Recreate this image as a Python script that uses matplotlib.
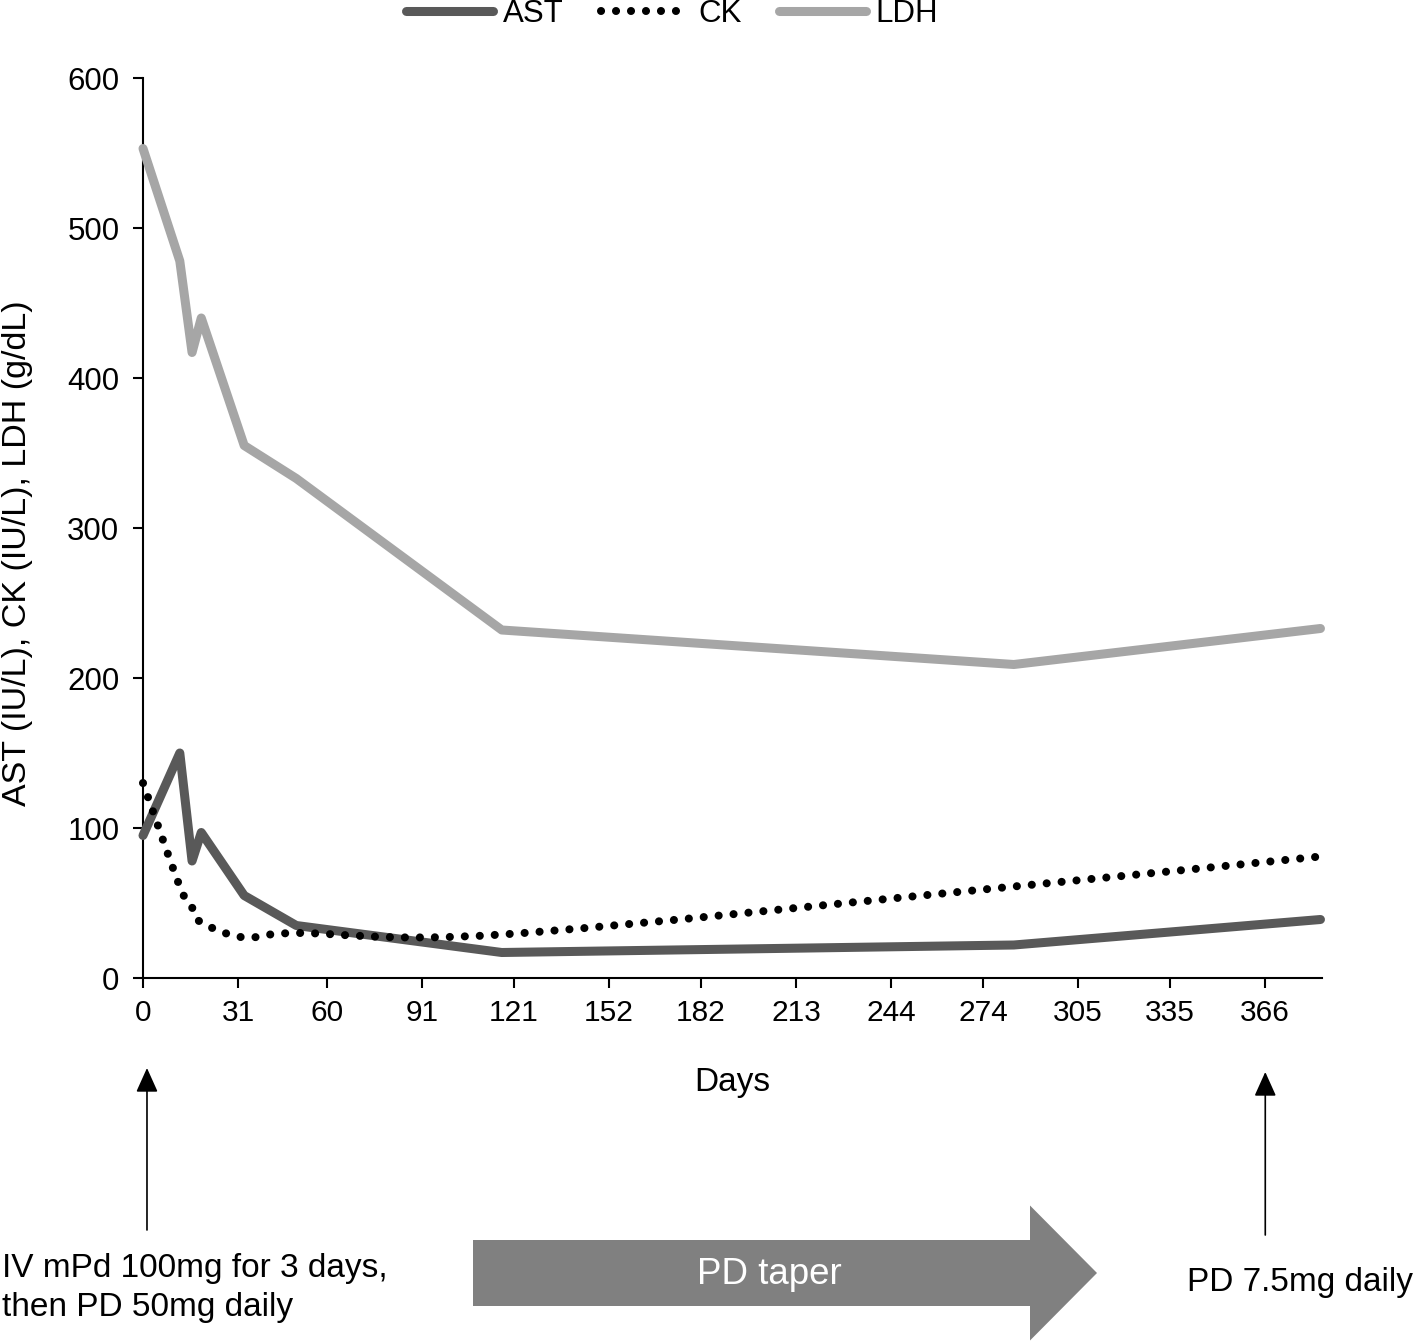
import numpy as np
import matplotlib
matplotlib.use("Agg")
import matplotlib.pyplot as plt
from matplotlib.path import Path
from matplotlib.patches import PathPatch, FancyArrow

plt.rcParams['font.family'] = ['Liberation Sans', 'DejaVu Sans']

# days since start of treatment
days = [0, 12, 16, 19, 33, 50, 117, 284, 384]
ast = [95, 150, 78, 97, 55, 35, 17, 22, 39]
ck = [130, 61, 47, 37, 27, 30, 29, 61, 81]
ldh = [553, 478, 417, 440, 355, 333, 232, 209, 233]

xticks = [0, 31, 60, 91, 121, 152, 182, 213, 244, 274, 305, 335, 366]
yticks = [0, 100, 200, 300, 400, 500, 600]


def smooth_path(x, y):
    # excel style smoothed line: cubic bezier through every point
    p = np.column_stack([x, y]).astype(float)
    n = len(p)
    verts = [p[0]]
    codes = [Path.MOVETO]
    for i in range(n - 1):
        prev = p[max(i - 1, 0)]
        nxt = p[min(i + 2, n - 1)]
        c1 = p[i] + (p[i + 1] - prev) / 6
        c2 = p[i + 1] - (nxt - p[i]) / 6
        verts += [c1, c2, p[i + 1]]
        codes += [Path.CURVE4] * 3
    return Path(verts, codes)


fig = plt.figure(figsize=(14.18, 13.43), dpi=100)
ax = fig.add_axes([143 / 1418, 1 - 978 / 1343, (1322 - 143) / 1418, 900 / 1343])

dots = (0, (0.01, 1.85))
ast_line, = ax.plot(days, ast, color='#595959', lw=6.5, solid_capstyle='round',
                    solid_joinstyle='round', clip_on=False, label='AST', zorder=3)
ck_patch = PathPatch(smooth_path(days, ck), fill=False, edgecolor='black', lw=5.8,
                     linestyle=dots, capstyle='round', clip_on=False, zorder=4)
ax.add_patch(ck_patch)
ck_handle, = ax.plot([], [], color='black', lw=5.8, linestyle=dots,
                     dash_capstyle='round', label='CK')
ldh_line, = ax.plot(days, ldh, color='#A6A6A6', lw=6.5, solid_capstyle='round',
                    solid_joinstyle='round', clip_on=False, label='LDH', zorder=3)

ax.set_xlim(0, 384.5)
ax.set_ylim(0, 600)
ax.set_xticks(xticks)
ax.set_yticks(yticks)
ax.tick_params(labelsize=21.5, length=7, width=1.5, direction='out')
ax.tick_params(axis='x', pad=8)
ax.tick_params(axis='y', labelsize=22.5, pad=10)
for s in ['top', 'right']:
    ax.spines[s].set_visible(False)
for s in ['left', 'bottom']:
    ax.spines[s].set_linewidth(1.5)

ax.set_xlabel('Days', fontsize=24, labelpad=29)
fig.text(18 / 1418, 1 - 553 / 1343, 'AST (IU/L), CK (IU/L), LDH (g/dL)',
         rotation=90, fontsize=24.5, ha='center', va='center')

fig.legend(handles=[ast_line, ck_handle, ldh_line], loc='center', ncol=3,
           bbox_to_anchor=(672 / 1418, 1 - 14 / 1343), frameon=False, fontsize=22.5,
           handlelength=2.8, handletextpad=0.3, columnspacing=1.2)

# treatment arrows below the axis
for xd, y0, y1 in [(1.3, 1230, 1068), (366, 1235, 1072)]:
    ax.annotate('', xy=(xd, 1 - y1 / 1343), xytext=(xd, 1 - y0 / 1343),
                xycoords=('data', 'figure fraction'), textcoords=('data', 'figure fraction'),
                arrowprops=dict(arrowstyle='-|>,head_length=1.0,head_width=0.45',
                                mutation_scale=15, lw=1.2, color='black',
                                shrinkA=0, shrinkB=0), annotation_clip=False)

fig.text(2 / 1418, 1 - 1288 / 1343, 'IV mPd 100mg for 3 days,\nthen PD 50mg daily',
         fontsize=24, ha='left', va='center', linespacing=1.3)
fig.text(1300 / 1418, 1 - 1283 / 1343, 'PD 7.5mg daily', fontsize=24,
         ha='center', va='center')

taper = FancyArrow(473 / 1418, 1 - 1273 / 1343, (1097 - 473) / 1418, 0,
                   width=66 / 1343, head_width=135 / 1343, head_length=67 / 1418,
                   length_includes_head=True, color='#808080', lw=0,
                   transform=fig.transFigure)
fig.patches.append(taper)
fig.text(769 / 1418, 1 - 1275 / 1343, 'PD taper', fontsize=26.5, color='white',
         ha='center', va='center')

fig.savefig('out.png', dpi=100)
